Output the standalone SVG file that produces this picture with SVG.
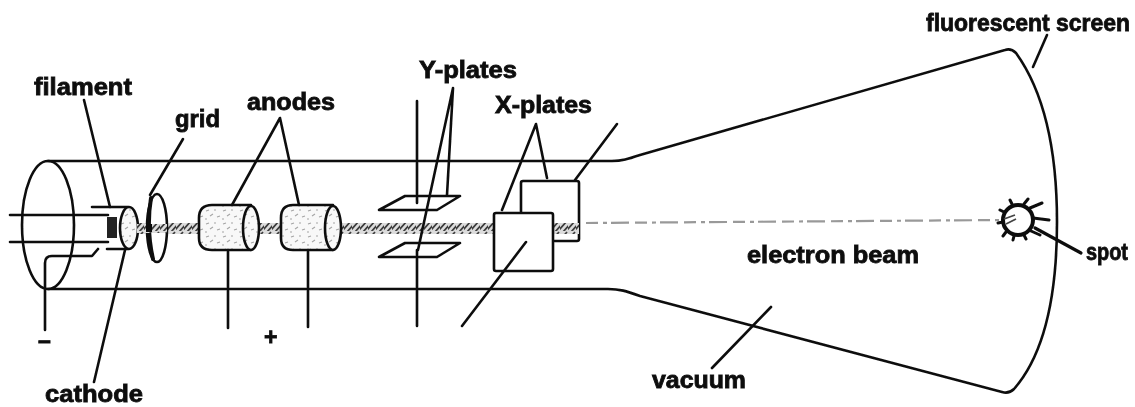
<svg xmlns="http://www.w3.org/2000/svg" width="1135" height="407" viewBox="0 0 1135 407">
<style>
.l{fill:none;stroke:#111;stroke-width:2.6;stroke-linecap:round;stroke-linejoin:round}
.t{fill:#111;stroke:#111;stroke-width:.8;font-family:"Liberation Sans",Arial,sans-serif;font-size:23px;font-weight:bold}
.w{fill:#fff}
.s{fill:url(#speck)}
</style>
<defs>
<filter id="soft" x="-5%" y="-5%" width="110%" height="110%"><feGaussianBlur stdDeviation="0.75"/></filter>
<pattern id="hatch" width="8" height="11" patternUnits="userSpaceOnUse"><rect width="8" height="11" fill="#dcdcdc"/><path d="M-1 10L7 1M3 12L11 3" stroke="#3c3c3c" stroke-width="1.7"/></pattern>
<pattern id="speck" width="17" height="13" patternUnits="userSpaceOnUse"><rect width="17" height="13" fill="#f8f8f8"/><path d="M2 3l3-1M10 2l2 0M6 8l3-2M13 9l3-1M1 11l2 0" stroke="#a5a5a5" stroke-width="1.1"/></pattern>
</defs>
<rect width="1135" height="407" fill="#fff"/>
<g filter="url(#soft)">
<g id="tube">
<path class="l" d="M48 161H612C622 161 628 159 640 155L1005 50Q1011 48 1016 53Q1057 110 1057 222Q1057 340 1014 389Q1009 394 1002 392L640 296C626 291 620 289 608 289H48"/>
<ellipse class="l" cx="48" cy="225" rx="26" ry="64"/>
</g>
<g id="beam">
<rect x="135" y="223" width="64" height="11" fill="url(#hatch)"/>
<rect x="259" y="223" width="22" height="11" fill="url(#hatch)"/>
<rect x="341" y="223" width="153" height="11" fill="url(#hatch)"/>
</g>
<g id="filament">
<path class="l" d="M10 215H108M10 242H108"/>
<path d="M107 217h10v21h-10z" fill="#222"/>
</g>
<g id="cathode">
<path class="l" d="M92 207H128M107 249H128M98 249l-6 7H52Q45 256 45 263V330"/>
<ellipse class="l s" cx="129" cy="228" rx="9" ry="21"/>
</g>
<g id="grid">
<ellipse class="l w" cx="157" cy="228" rx="10" ry="34"/>
<path class="l" style="stroke-width:4" d="M151 198Q146 228 153 259"/>
<rect x="137" y="224" width="30" height="9" fill="url(#hatch)"/>
<path d="M146 228h6" stroke="#111" stroke-width="8"/>
</g>
<g id="anode1">
<path class="l s" d="M251 205H212Q199 205 199 218V238Q199 250 212 250H251"/>
<ellipse class="l s" cx="251" cy="228" rx="8" ry="22"/>
<path class="l" d="M228 250V328"/>
</g>
<g id="anode2">
<path class="l s" d="M333 205H293Q281 205 281 218V238Q281 250 293 250H333"/>
<ellipse class="l s" cx="333" cy="228" rx="8" ry="22"/>
<path class="l" d="M308 250V327"/>
</g>
<g id="y-plates">
<path class="l" d="M417 101V203M417 250V326"/>
<path class="l" d="M379 210L405 196H460L437 210Z"/>
<path class="l" d="M379 257L405 243H460L437 257Z"/>
</g>
<g id="x-plate-back">
<rect class="l w" x="521" y="181" width="58" height="60" rx="2"/>
<rect x="553" y="223" width="26" height="11" fill="url(#hatch)"/>
<path class="l" d="M575 180L617 124"/>
</g>
<g id="x-plate-front">
<rect class="l w" x="494" y="213" width="59" height="58" rx="2"/>
<path class="l" d="M526 242L462 326"/>
</g>
<g id="beam-far">
<path d="M586 223L1005 220" fill="none" stroke="#999" stroke-width="2.2" stroke-dasharray="12 5 4 4 18 6"/>
</g>
<g id="spot">
<circle class="l" cx="1018" cy="220" r="15" style="stroke-width:4"/>
<path class="l" style="stroke-width:3" d="M1030 208L1042 203M1033 218L1049 220M1031 231L1040 235M1024 204L1028 199M1012 204L1010 200M1004 212L1000 210M1003 222L998 223M1006 232L1003 236M1014 236L1013 240M1024 235L1026 239"/>
<path d="M1004 219l11-4M1006 224l10-5" stroke="#444" stroke-width="1.8"/>
</g>
<g id="connectors">
<path class="l" d="M84 100L110 207"/>
<path class="l" d="M183 139L150 195"/>
<path class="l" d="M232 205L280 118L299 205"/>
<path class="l" d="M94 382L125 250"/>
<path class="l" d="M418 250L453 88L447 195"/>
<path class="l" d="M502 210L536 124L547 178"/>
<path class="l" d="M712 368L771 307"/>
<path class="l" d="M1033 67L1047 35"/>
<path class="l" style="stroke-width:3.2" d="M1035 228L1081 253"/>
</g>
<g id="labels">
<text class="t" x="34" y="95" textLength="98" lengthAdjust="spacingAndGlyphs">filament</text>
<text class="t" x="175" y="127" textLength="45" lengthAdjust="spacingAndGlyphs">grid</text>
<text class="t" x="247" y="110" textLength="88" lengthAdjust="spacingAndGlyphs">anodes</text>
<text class="t" x="45" y="402" textLength="98" lengthAdjust="spacingAndGlyphs">cathode</text>
<text class="t" x="419" y="78" textLength="98" lengthAdjust="spacingAndGlyphs">Y-plates</text>
<text class="t" x="495" y="113" textLength="97" lengthAdjust="spacingAndGlyphs">X-plates</text>
<text class="t" x="747" y="263" textLength="172" lengthAdjust="spacingAndGlyphs">electron beam</text>
<text class="t" x="652" y="388" textLength="94" lengthAdjust="spacingAndGlyphs">vacuum</text>
<text class="t" x="926" y="31" textLength="204" lengthAdjust="spacingAndGlyphs">fluorescent screen</text>
<text class="t" x="1086" y="260" textLength="42" lengthAdjust="spacingAndGlyphs">spot</text>
<text class="t" x="264" y="345">+</text>
<text class="t" x="38" y="348">–</text>
</g>
</g>
</svg>
